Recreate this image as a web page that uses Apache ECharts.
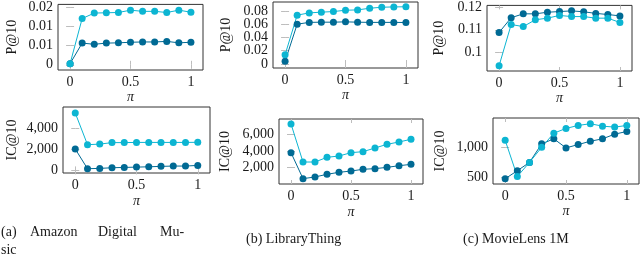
<!DOCTYPE html>
<html>
<head>
<meta charset="utf-8">
<script src="https://cdn.jsdelivr.net/npm/echarts@6/dist/echarts.min.js"></script>
<style>
html,body{margin:0;padding:0;background:#fff;}
#chart{width:640px;height:257px;}
</style>
</head>
<body>
<div id="chart"></div>
<script>
// ---- data ----
const piValues = [0, 0.1, 0.2, 0.3, 0.4, 0.5, 0.6, 0.7, 0.8, 0.9, 1.0];
const xTicks = [0, 0.5, 1];
const xTickLabels = ['0', '0.5', '1'];

const musicP_dark  = [0.0004, 0.0075, 0.0071, 0.0075, 0.0076, 0.0078, 0.0079, 0.0079, 0.0081, 0.0076, 0.0078];
const musicP_light = [0.0004, 0.0160, 0.0179, 0.0180, 0.0181, 0.0189, 0.0185, 0.0185, 0.0181, 0.0189, 0.0182];
const libP_dark    = [0.0040, 0.0600, 0.0627, 0.0630, 0.0630, 0.0635, 0.0630, 0.0627, 0.0627, 0.0627, 0.0625];
const libP_light   = [0.0139, 0.0736, 0.0770, 0.0781, 0.0790, 0.0810, 0.0815, 0.0840, 0.0855, 0.0860, 0.0862];
const mlP_dark     = [0.1088, 0.1153, 0.1170, 0.1170, 0.1177, 0.1180, 0.1183, 0.1179, 0.1172, 0.1167, 0.1161];
const mlP_light    = [0.0942, 0.1123, 0.1114, 0.1144, 0.1151, 0.1163, 0.1158, 0.1158, 0.1151, 0.1151, 0.1132];

const musicIC_dark  = [2020, 160, 190, 250, 280, 310, 340, 380, 410, 410, 470];
const musicIC_light = [5415, 2425, 2480, 2620, 2620, 2640, 2640, 2640, 2640, 2640, 2650];
const libIC_dark    = [3800, 690, 890, 1210, 1450, 1600, 1810, 1890, 2040, 2240, 2400];
const libIC_light   = [7234, 2680, 2680, 3245, 3400, 3800, 3920, 4360, 4800, 5080, 5400];
const mlIC_dark     = [472, 605, 743, 1050, 1133, 983, 1038, 1093, 1133, 1210, 1255];
const mlIC_light    = [1110, 510, 743, 993, 1227, 1305, 1355, 1383, 1343, 1327, 1355];

const musicP_ticks = [0, 0.02 / 3, 0.04 / 3, 0.02];
const musicP_tickLabels = ['0', '0.01', '0.01', '0.02'];
const libP_ticks = [0, 0.02, 0.04, 0.06, 0.08];
const libP_tickLabels = ['0', '0.02', '0.04', '0.06', '0.08'];
const mlP_ticks = [0.1, 0.11, 0.12];
const mlP_tickLabels = ['0.1', '0.11', '0.12'];
const musicIC_ticks = [0, 2000, 4000];
const musicIC_tickLabels = ['0', '2,000', '4,000'];
const libIC_ticks = [2000, 4000, 6000];
const libIC_tickLabels = ['2,000', '4,000', '6,000'];
const mlIC_ticks = [500, 1000];
const mlIC_tickLabels = ['500', '1,000'];

const captionA1 = ['(a)', 'Amazon', 'Digital', 'Mu-'];
const captionA2 = 'sic';
const captionB = '(b) LibraryThing';
const captionC = '(c) MovieLens 1M';

// ---- styling / layout ----
const DARK = '#006a94';
const LIGHT = '#0cb5d2';
const FONT = 'Liberation Serif';
const TXT = '#1a1a1a';

const panels = [
  {rect: {left: 58, top: 4, width: 145, height: 66}, yMin: -0.0018, yMax: 0.0209, ticks: musicP_ticks, labels: musicP_tickLabels, dark: musicP_dark, light: musicP_light, yName: 'P@10', yGap: 39, xGap: 20},
  {rect: {left: 273, top: 2, width: 145, height: 66}, yMin: -0.006, yMax: 0.0934, ticks: libP_ticks, labels: libP_tickLabels, dark: libP_dark, light: libP_light, yName: 'P@10', yGap: 40, xGap: 18},
  {rect: {left: 487, top: 5, width: 145, height: 66}, yMin: 0.0919, yMax: 0.1207, ticks: mlP_ticks, labels: mlP_tickLabels, dark: mlP_dark, light: mlP_light, yName: 'P@10', yGap: 41, xGap: 19},
  {rect: {left: 63, top: 107, width: 147, height: 66}, yMin: -245, yMax: 5980, ticks: musicIC_ticks, labels: musicIC_tickLabels, dark: musicIC_dark, light: musicIC_light, yName: 'IC@10', yGap: 44, xGap: 21},
  {rect: {left: 279, top: 119, width: 144, height: 65}, yMin: 50, yMax: 7830, ticks: libIC_ticks, labels: libIC_tickLabels, dark: libIC_dark, light: libIC_light, yName: 'IC@10', yGap: 47, xGap: 21},
  {rect: {left: 493, top: 118, width: 146, height: 66}, yMin: 385, yMax: 1478, ticks: mlIC_ticks, labels: mlIC_tickLabels, dark: mlIC_dark, light: mlIC_light, yName: 'IC@10', yGap: 46, xGap: 19}
];

const grid = [], xAxis = [], yAxis = [], series = [];
const tickStyle = {show: true, inside: true, length: 4, lineStyle: {color: '#bdbdbd', width: 1}};

function labelFor(ticks, labels) {
  return v => {
    const k = ticks.findIndex(t => Math.abs(t - v) <= 1e-7 * Math.max(1, Math.abs(t)));
    return k >= 0 ? labels[k] : '';
  };
}

panels.forEach((p, i) => {
  grid.push(Object.assign({show: true, borderColor: '#333', borderWidth: 1, backgroundColor: 'transparent'}, p.rect));
  const base = xAxis.length;
  xAxis.push({
    type: 'value', gridIndex: i, min: -0.1, max: 1.1, position: 'bottom',
    axisLine: {show: false}, splitLine: {show: false},
    axisTick: Object.assign({customValues: xTicks}, tickStyle),
    axisLabel: {customValues: xTicks, hideOverlap: false, margin: 5, color: TXT, fontFamily: FONT, fontSize: 14,
      formatter: labelFor(xTicks, xTickLabels)},
    name: 'π', nameLocation: 'middle', nameGap: p.xGap,
    nameTextStyle: {color: TXT, fontFamily: FONT, fontSize: 14, fontStyle: 'italic'}
  });
  xAxis.push({
    type: 'value', gridIndex: i, min: -0.1, max: 1.1, position: 'top',
    axisLine: {show: false}, splitLine: {show: false}, axisLabel: {show: false},
    axisTick: Object.assign({customValues: xTicks}, tickStyle)
  });
  // labels split over two left axes (even / odd ticks) so close labels are never dropped
  const evenTicks = p.ticks.filter((_, k) => k % 2 === 0);
  const oddTicks = p.ticks.filter((_, k) => k % 2 === 1);
  const yBase = yAxis.length;
  yAxis.push({
    type: 'value', gridIndex: i, min: p.yMin, max: p.yMax, position: 'left',
    axisLine: {show: false}, splitLine: {show: false},
    axisTick: Object.assign({customValues: p.ticks}, tickStyle),
    axisLabel: {customValues: evenTicks, hideOverlap: false, margin: 5, color: TXT, fontFamily: FONT, fontSize: 14,
      formatter: labelFor(p.ticks, p.labels)},
    name: p.yName, nameLocation: 'middle', nameGap: p.yGap, nameRotate: 90,
    nameTextStyle: {color: TXT, fontFamily: FONT, fontSize: 14}
  });
  yAxis.push({
    type: 'value', gridIndex: i, min: p.yMin, max: p.yMax, position: 'right',
    axisLine: {show: false}, splitLine: {show: false}, axisLabel: {show: false},
    axisTick: Object.assign({customValues: p.ticks}, tickStyle)
  });
  if (oddTicks.length) {
    yAxis.push({
      type: 'value', gridIndex: i, min: p.yMin, max: p.yMax, position: 'left', offset: 0,
      axisLine: {show: false}, splitLine: {show: false}, axisTick: {show: false},
      axisLabel: {customValues: oddTicks, hideOverlap: false, margin: 5, color: TXT, fontFamily: FONT, fontSize: 14,
        formatter: labelFor(p.ticks, p.labels)}
    });
  }
  [['dark', p.dark, DARK], ['light', p.light, LIGHT]].forEach(([nm, vals, col]) => {
    series.push({
      type: 'line', name: nm, xAxisIndex: base, yAxisIndex: yBase,
      data: piValues.map((x, k) => [x, vals[k]]),
      symbol: 'circle', symbolSize: 7, showSymbol: true,
      lineStyle: {color: col, width: 1}, itemStyle: {color: col},
      animation: false, silent: true
    });
  });
});

const capStyle = {fill: TXT, font: '14px "Liberation Serif"', textVerticalAlign: 'middle'};
const capAX = [1, 30, 98, 160];
const graphic = [];
captionA1.forEach((w, k) => {
  graphic.push({type: 'text', left: capAX[k], top: 225, style: Object.assign({text: w}, capStyle)});
});
graphic.push({type: 'text', left: 1, top: 243, style: Object.assign({text: captionA2}, capStyle)});
graphic.push({type: 'text', left: 246, top: 232, style: Object.assign({text: captionB}, capStyle)});
graphic.push({type: 'text', left: 463, top: 232, style: Object.assign({text: captionC}, capStyle)});

const chart = echarts.init(document.getElementById('chart'), null, {renderer: 'canvas'});
chart.setOption({animation: false, grid, xAxis, yAxis, series, graphic});
</script>
</body>
</html>
